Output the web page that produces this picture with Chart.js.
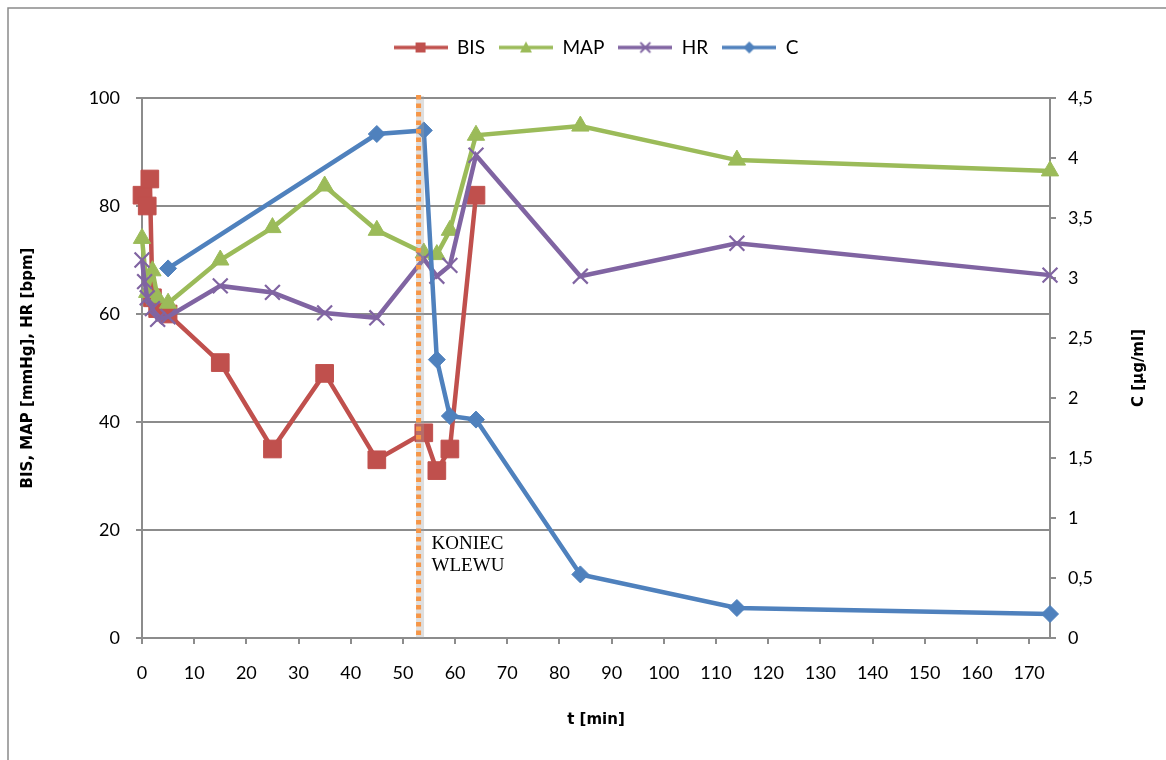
<!DOCTYPE html>
<html>
<head>
  <meta charset="utf-8">
  <title>BIS, MAP, HR i stężenie C</title>
  <script src="https://cdn.jsdelivr.net/npm/chart.js@4.4.0/dist/chart.umd.min.js"></script>
  <style>
    body {
      margin: 0;
      background: #fff;
    }
    #wrap {
      width: 1166px;
      height: 760px;
    }
  </style>
</head>
<body>
  <div id="wrap"><canvas id="chart" width="1166" height="760"></canvas></div>

  <script>
    // czas [min] - wspólny dla wszystkich serii, null = brak pomiaru
    const tMin = [0, 0.5, 1, 1.5, 2, 3, 5, 15, 25, 35, 45, 54, 56.5, 59, 64, 84, 114, 174];
    const bis  = [82, null, 80, 85, 63, 61, 60, 51, 35, 49, 33, 38, 31, 35, 82, null, null, null];
    const map  = [74, null, 64, null, 68, 63, 62, 70, 76, 83.7, 75.5, 71.3, 71, 75.5, 93.1, 94.8, 88.5, 86.5];
    const hr   = [70, 66, 63, null, 61, 59, 59.5, 65.2, 64, 60.2, 59.3, 70.2, 67, 69, 89.4, 67, 73.1, 67.2];
    const conc = [null, null, null, null, null, null, 3.08, null, null, null, 4.2, 4.23, 2.32, 1.85, 1.82, 0.53, 0.25, 0.2];

    const infusionEnd = 53;   // koniec wlewu [min]
    const xMax = 174;

    const GRID = '#8c8c8c';
    const TICK_FONT = { family: 'Lato', size: 18 };
    const TITLE_FONT = { family: 'DejaVu Sans', size: 15, weight: 'bold' };

    function pts(vals) {
      return tMin.map((t, i) => ({ x: t, y: vals[i] })).filter(p => p.y !== null);
    }

    // ikonka legendy: linia z markerem na środku
    function legendIcon(color, style) {
      const c = document.createElement('canvas');
      c.width = 54; c.height = 20;
      const g = c.getContext('2d');
      g.strokeStyle = color;
      g.fillStyle = color;
      g.lineWidth = 3.5;
      g.beginPath(); g.moveTo(0, 10); g.lineTo(54, 10); g.stroke();
      g.beginPath();
      if (style === 'rect') {
        g.fillRect(22, 5, 10, 10);
      } else if (style === 'triangle') {
        g.moveTo(27, 4); g.lineTo(33, 15); g.lineTo(21, 15); g.closePath(); g.fill();
      } else if (style === 'crossRot') {
        g.lineWidth = 1.8;
        g.moveTo(22, 5); g.lineTo(32, 15); g.moveTo(32, 5); g.lineTo(22, 15); g.stroke();
      } else {
        g.moveTo(27, 4); g.lineTo(33, 10); g.lineTo(27, 16); g.lineTo(21, 10); g.closePath(); g.fill();
      }
      return c;
    }

    function series(label, data, color, style, radius, axis, order) {
      return {
        label: label,
        data: data,
        yAxisID: axis,
        order: order,
        clip: false,
        borderColor: color,
        backgroundColor: color,
        borderWidth: 4.5,
        pointStyle: style,
        pointRadius: radius,
        pointHoverRadius: radius,
        pointBackgroundColor: color,
        pointBorderColor: color,
        pointBorderWidth: style === 'crossRot' ? 2.2 : 1,
        tension: 0,
        legendIcon: legendIcon(color, style)
      };
    }

    // dodatkowy odstęp pod legendą
    const legendGapPlugin = {
      id: 'legendGap',
      beforeLayout(chart) {
        const lg = chart.legend;
        if (lg && !lg._gapWrapped) {
          const fit = lg.fit;
          lg.fit = function () { fit.call(this); this.height += 31; };
          lg._gapWrapped = true;
        }
      }
    };

    // ramka wykresu (lewa i górna krawędź)
    const framePlugin = {
      id: 'frame',
      beforeDraw(chart) {
        const ctx = chart.ctx;
        ctx.save();
        ctx.strokeStyle = '#8a8a8a';
        ctx.lineWidth = 1.5;
        ctx.beginPath();
        ctx.moveTo(8, 760); ctx.lineTo(8, 8); ctx.lineTo(1166, 8);
        ctx.stroke();
        ctx.restore();
      }
    };

    // pionowa linia - koniec wlewu
    const infusionPlugin = {
      id: 'infusion',
      afterDatasetsDraw(chart) {
        const ctx = chart.ctx;
        const area = chart.chartArea;
        const x = chart.scales.x.getPixelForValue(infusionEnd);
        ctx.save();
        ctx.strokeStyle = 'rgba(160,160,160,0.35)';
        ctx.lineWidth = 8;
        ctx.beginPath(); ctx.moveTo(x + 1.5, area.top - 2); ctx.lineTo(x + 1.5, area.bottom); ctx.stroke();
        ctx.strokeStyle = '#F79646';
        ctx.lineWidth = 5;
        ctx.setLineDash([4.5, 4]);
        ctx.beginPath(); ctx.moveTo(x, area.top - 3); ctx.lineTo(x, area.bottom - 2); ctx.stroke();
        ctx.setLineDash([]);
        ctx.fillStyle = '#000';
        ctx.font = '19px "Liberation Serif"';
        ctx.textBaseline = 'middle';
        ctx.textAlign = 'left';
        ctx.fillText('KONIEC', x + 13, 544);
        ctx.fillText('WLEWU', x + 13, 566);
        ctx.restore();
      }
    };

    // tytuł prawej osi, czytany od dołu
    const rightTitlePlugin = {
      id: 'rightTitle',
      afterDraw(chart) {
        const ctx = chart.ctx;
        const area = chart.chartArea;
        ctx.save();
        ctx.translate(1139, (area.top + area.bottom) / 2);
        ctx.rotate(-Math.PI / 2);
        ctx.fillStyle = '#000';
        ctx.font = 'bold 15px "DejaVu Sans"';
        ctx.textAlign = 'center';
        ctx.textBaseline = 'middle';
        ctx.fillText('C [µg/ml]', 0, 0);
        ctx.restore();
      }
    };

    const chart = new Chart(document.getElementById('chart'), {
      type: 'line',
      data: {
        datasets: [
          series('BIS', pts(bis), '#C0504D', 'rect', 12.5, 'y', 4),
          series('MAP', pts(map), '#9BBB59', 'triangle', 10, 'y', 3),
          series('HR', pts(hr), '#8064A2', 'crossRot', 10.5, 'y', 2),
          series('C', pts(conc), '#4F81BD', 'rectRot', 8.5, 'y1', 1)
        ]
      },
      options: {
        responsive: false,
        animation: false,
        layout: { padding: { top: 24, left: 0, right: 0, bottom: 0 } },
        plugins: {
          tooltip: { enabled: false },
          legend: {
            position: 'top',
            fullSize: false,
            labels: {
              usePointStyle: true,
              pointStyleWidth: 54,
              padding: 14,
              color: '#000',
              font: { family: 'Lato', size: 19 },
              sort: (a, b) => a.datasetIndex - b.datasetIndex,
              generateLabels(chart) {
                const items = Chart.defaults.plugins.legend.labels.generateLabels(chart);
                items.forEach(it => {
                  it.pointStyle = chart.data.datasets[it.datasetIndex].legendIcon;
                });
                return items;
              }
            }
          }
        },
        scales: {
          x: {
            type: 'linear',
            min: 0,
            max: xMax,
            afterFit(scale) { scale.height = 122; },
            ticks: {
              stepSize: 10,
              includeBounds: false,
              padding: 18,
              color: '#000',
              font: TICK_FONT,
              maxRotation: 0
            },
            grid: { drawOnChartArea: false, color: GRID, lineWidth: 2, tickLength: 6 },
            border: { color: GRID, width: 2 },
            title: {
              display: true,
              text: 't [min]',
              color: '#000',
              font: TITLE_FONT,
              padding: { top: 0, bottom: 31 }
            }
          },
          y: {
            position: 'left',
            min: 0,
            max: 100,
            afterFit(scale) { scale.width = 142; },
            ticks: { stepSize: 20, padding: 16, color: '#000', font: TICK_FONT },
            grid: { color: GRID, lineWidth: 2, tickLength: 6 },
            border: { color: GRID, width: 2 },
            title: {
              display: true,
              text: 'BIS, MAP [mmHg], HR [bpm]',
              color: '#000',
              font: TITLE_FONT,
              padding: { top: 19, bottom: 0 }
            }
          },
          y1: {
            position: 'right',
            min: 0,
            max: 4.5,
            afterFit(scale) { scale.width = 116; },
            ticks: {
              stepSize: 0.5,
              padding: 12,
              color: '#000',
              font: TICK_FONT,
              callback: v => String(v).replace('.', ',')
            },
            grid: { drawOnChartArea: false, color: GRID, lineWidth: 2, tickLength: 6 },
            border: { color: GRID, width: 2 }
          }
        }
      },
      plugins: [legendGapPlugin, framePlugin, infusionPlugin, rightTitlePlugin]
    });
  </script>
</body>
</html>
